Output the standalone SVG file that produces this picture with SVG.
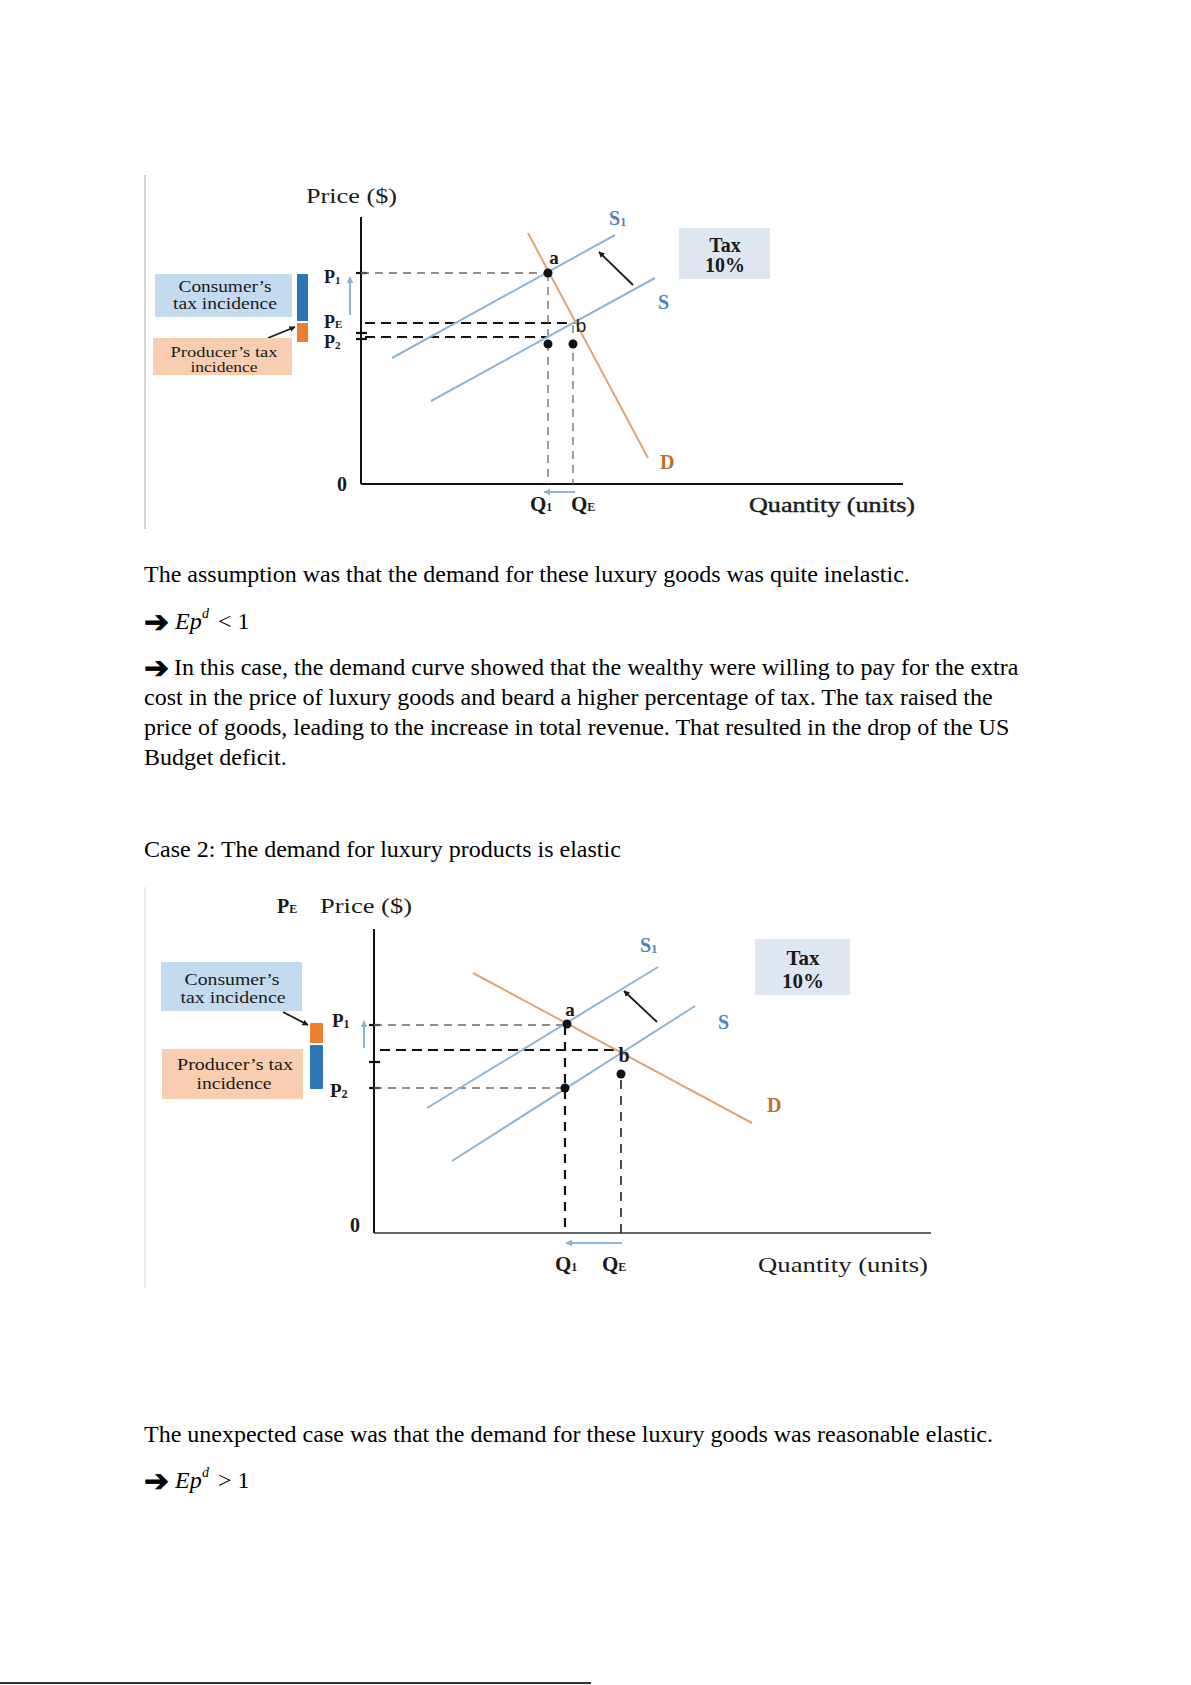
<svg xmlns="http://www.w3.org/2000/svg" width="1191" height="1685" viewBox="0 0 1191 1685">
<defs>
<style>
.body{font-family:"Liberation Serif","Times New Roman",serif;font-size:24px;fill:#000}
.sup-d{font-family:"Liberation Serif","Times New Roman",serif;font-size:14px;font-style:italic;fill:#000}
.arr{font-family:"DejaVu Sans",sans-serif;font-size:30px;fill:#000;stroke:#000;stroke-width:0.8}
.ax{stroke:#111;stroke-width:2;fill:none}
.tick{stroke:#111;stroke-width:2.2}
.dg{stroke:#6a6a6a;stroke-width:1.3;stroke-dasharray:8 6;fill:none}
.dk{stroke:#111;stroke-width:1.8;stroke-dasharray:10 6;fill:none}
.sup{stroke:#8fb5d3;stroke-width:2;fill:none}
.dem{stroke:#dea677;stroke-width:2;fill:none}
.lbl{font-family:"Liberation Serif","Times New Roman",serif;fill:#1a1a1a}
.b{font-weight:bold}
.sl{font-family:"Liberation Serif",serif;font-weight:bold;font-size:20px;fill:#4f81bd}
.dl{font-family:"Liberation Serif",serif;font-weight:bold;font-size:20px;fill:#c0702c}
.cons{fill:#c4daee}
.prod{fill:#f8cdb0}
.bbar{fill:#2e75b6}
.obar{fill:#ed7d31}
.taxbox{fill:#dde6f1}
.dot{fill:#111}
.blk{stroke:#1a1a1a;stroke-width:1.8;fill:none;marker-end:url(#hb)}
.blu{stroke:#8fb5d3;stroke-width:2;fill:none;marker-end:url(#hl)}
</style>
<marker id="hb" viewBox="0 0 10 10" refX="9" refY="5" markerWidth="6" markerHeight="6" orient="auto" markerUnits="userSpaceOnUse">
<path d="M0,0 L10,5 L0,10 z" fill="#1a1a1a"/>
</marker>
<marker id="hl" viewBox="0 0 10 10" refX="9" refY="5" markerWidth="7" markerHeight="7" orient="auto" markerUnits="userSpaceOnUse">
<path d="M0,0 L10,5 L0,10 z" fill="#8fb5d3"/>
</marker>
</defs>
<rect width="1191" height="1685" fill="#fff"/>

<!-- Chart 1 -->
<g id="chart1">
<line x1="145" y1="175" x2="145" y2="529" stroke="#c8c8c8" stroke-width="1.5"/>
<text class="lbl" x="306" y="203" font-size="22" textLength="91" lengthAdjust="spacingAndGlyphs">Price ($)</text>
<g id="c1-axes">
<line class="ax" x1="361" y1="217" x2="361" y2="484"/>
<line class="ax" x1="361" y1="484" x2="903" y2="484"/>
<line class="tick" x1="356" y1="273" x2="367" y2="273"/>
<line class="tick" x1="356" y1="333" x2="367" y2="333"/>
<line class="tick" x1="356" y1="339" x2="367" y2="339"/>
<text class="lbl b" x="342" y="491" font-size="20" text-anchor="middle">0</text>
<text class="lbl b" x="324" y="283" font-size="18">P<tspan font-size="11" dy="1">1</tspan></text>
<text class="lbl b" x="324" y="328" font-size="18">P<tspan font-size="11">E</tspan></text>
<text class="lbl b" x="324" y="348" font-size="18">P<tspan font-size="11" dy="1">2</tspan></text>
<text class="lbl b" x="530" y="511" font-size="21">Q<tspan font-size="12">1</tspan></text>
<text class="lbl b" x="571" y="511" font-size="21">Q<tspan font-size="12">E</tspan></text>
<text class="lbl" x="749" y="512" font-size="22" textLength="166" lengthAdjust="spacingAndGlyphs" stroke="#1a1a1a" stroke-width="0.4">Quantity (units)</text>
</g>
<g id="c1-guides">
<path class="dg" d="M361,273 H548"/>
<path class="dk" d="M365,323 H575"/>
<path class="dk" d="M365,337 H548"/>
<path class="dg" d="M548,273 V484"/>
<path class="dg" d="M573,325 V484"/>
</g>
<g id="c1-curves">
<line class="sup" x1="392" y1="358" x2="615" y2="235"/>
<line class="sup" x1="431" y1="401" x2="655" y2="278"/>
<line class="dem" x1="528" y1="233" x2="648" y2="458"/>
<text class="sl" x="609" y="225">S<tspan font-size="12" dy="1">1</tspan></text>
<text class="sl" x="658" y="309">S</text>
<text class="dl" x="660" y="469">D</text>
</g>
<g id="c1-points">
<circle class="dot" cx="548" cy="273" r="4.5"/>
<circle class="dot" cx="548" cy="344" r="4.5"/>
<circle class="dot" cx="573" cy="344" r="4.5"/>
<text class="lbl b" x="554" y="264" font-size="19" text-anchor="middle">a</text>
<text x="581" y="332" font-family="Liberation Sans,Arial,sans-serif" font-size="19" fill="#1a1a1a" text-anchor="middle">b</text>
</g>
<g id="c1-tax">
<rect class="taxbox" x="679" y="228" width="91" height="51"/>
<text class="lbl b" x="725" y="252" font-size="20" text-anchor="middle">Tax</text>
<text class="lbl b" x="725" y="272" font-size="20" text-anchor="middle">10%</text>
</g>
<g id="c1-arrows">
<line class="blk" x1="633" y1="285" x2="599" y2="252"/>
<line class="blu" x1="575" y1="492" x2="544" y2="492"/>
<line class="blu" x1="350" y1="315" x2="350" y2="277"/>
<line class="blk" x1="268" y1="338" x2="295" y2="327"/>
</g>
<g id="c1-consumer">
<rect class="cons" x="155" y="274" width="137" height="43"/>
<text class="lbl" x="225" y="292" font-size="16" text-anchor="middle" textLength="93" lengthAdjust="spacingAndGlyphs">Consumer’s</text>
<text class="lbl" x="225" y="309" font-size="16" text-anchor="middle" textLength="104" lengthAdjust="spacingAndGlyphs">tax incidence</text>
</g>
<g id="c1-producer">
<rect class="prod" x="153" y="338" width="139" height="37"/>
<text class="lbl" x="224" y="357" font-size="15" text-anchor="middle" textLength="107" lengthAdjust="spacingAndGlyphs">Producer’s tax</text>
<text class="lbl" x="224" y="372" font-size="15" text-anchor="middle" textLength="67" lengthAdjust="spacingAndGlyphs">incidence</text>
</g>
<g id="c1-bars">
<rect class="bbar" x="297" y="274" width="11" height="47"/>
<rect class="obar" x="297" y="323" width="11" height="19"/>
</g>
</g>

<!-- Text block 1 -->
<g id="text1">
<text class="body" x="144" y="582">The assumption was that the demand for these luxury goods was quite inelastic.</text>
<text class="arr" x="144" y="632">➔</text>
<text class="body" x="175" y="629" font-style="italic">Ep</text>
<text class="sup-d" x="202" y="618">d</text>
<text class="body" x="218" y="629">&lt; 1</text>
<text class="arr" x="144" y="678">➔</text>
<text class="body" x="174" y="675">In this case, the demand curve showed that the wealthy were willing to pay for the extra</text>
<text class="body" x="144" y="705">cost in the price of luxury goods and beard a higher percentage of tax. The tax raised the</text>
<text class="body" x="144" y="735">price of goods, leading to the increase in total revenue. That resulted in the drop of the US</text>
<text class="body" x="144" y="765">Budget deficit.</text>
<text class="body" x="144" y="857">Case 2: The demand for luxury products is elastic</text>
</g>

<!-- Chart 2 -->
<g id="chart2">
<line x1="145" y1="887" x2="145" y2="1288" stroke="#e4e4e4" stroke-width="1.5"/>
<text class="lbl b" x="277" y="913" font-size="20">P<tspan font-size="12">E</tspan></text>
<text class="lbl" x="320" y="913" font-size="22" textLength="92" lengthAdjust="spacingAndGlyphs">Price ($)</text>
<g id="c2-axes">
<line class="ax" x1="374" y1="929" x2="374" y2="1233"/>
<line x1="374" y1="1233" x2="931" y2="1233" stroke="#333" stroke-width="1.6"/>
<line class="tick" x1="369" y1="1025" x2="380" y2="1025"/>
<line class="tick" x1="369" y1="1062" x2="380" y2="1062"/>
<line class="tick" x1="369" y1="1088" x2="380" y2="1088"/>
<text class="lbl b" x="355" y="1232" font-size="20" text-anchor="middle">0</text>
<text class="lbl b" x="332" y="1027" font-size="19">P<tspan font-size="12" dy="1">1</tspan></text>
<text class="lbl b" x="330" y="1097" font-size="19">P<tspan font-size="12" dy="1">2</tspan></text>
<text class="lbl b" x="555" y="1271" font-size="21">Q<tspan font-size="12">1</tspan></text>
<text class="lbl b" x="602" y="1271" font-size="21">Q<tspan font-size="12">E</tspan></text>
<text class="lbl" x="758" y="1272" font-size="22" textLength="170" lengthAdjust="spacingAndGlyphs">Quantity (units)</text>
</g>
<g id="c2-guides">
<path class="dg" d="M374,1025 H567"/>
<path class="dk" d="M380,1050 H620"/>
<path class="dg" d="M374,1088 H565"/>
<path d="M565,1026 V1233" stroke="#111" stroke-width="2.2" stroke-dasharray="9 7" fill="none"/>
<path d="M621,1080 V1233" stroke="#333" stroke-width="1.8" stroke-dasharray="9 7" fill="none"/>
</g>
<g id="c2-curves">
<line class="sup" x1="427" y1="1108" x2="658" y2="967"/>
<line class="sup" x1="452" y1="1161" x2="695" y2="1006"/>
<line class="dem" x1="473" y1="973" x2="752" y2="1123"/>
<text class="sl" x="640" y="952">S<tspan font-size="12" dy="1">1</tspan></text>
<text class="sl" x="718" y="1029">S</text>
<text class="dl" x="767" y="1112">D</text>
</g>
<g id="c2-points">
<circle class="dot" cx="567" cy="1024" r="4.5"/>
<circle class="dot" cx="565" cy="1088" r="4.5"/>
<circle class="dot" cx="621" cy="1074" r="4.5"/>
<text class="lbl b" x="570" y="1016" font-size="19" text-anchor="middle">a</text>
<text class="lbl b" x="624" y="1062" font-size="20" text-anchor="middle">b</text>
</g>
<g id="c2-tax">
<rect class="taxbox" x="755" y="939" width="95" height="56"/>
<text class="lbl b" x="803" y="965" font-size="21" text-anchor="middle">Tax</text>
<text class="lbl b" x="803" y="988" font-size="21" text-anchor="middle">10%</text>
</g>
<g id="c2-arrows">
<line class="blk" x1="657" y1="1022" x2="624" y2="991"/>
<line class="blu" x1="622" y1="1243" x2="566" y2="1243"/>
<line class="blu" x1="364" y1="1048" x2="364" y2="1021"/>
<line class="blk" x1="283" y1="1012" x2="308" y2="1025"/>
</g>
<g id="c2-consumer">
<rect class="cons" x="161" y="962" width="141" height="49"/>
<text class="lbl" x="232" y="985" font-size="16" text-anchor="middle" textLength="95" lengthAdjust="spacingAndGlyphs">Consumer’s</text>
<text class="lbl" x="233" y="1003" font-size="16" text-anchor="middle" textLength="105" lengthAdjust="spacingAndGlyphs">tax incidence</text>
</g>
<g id="c2-producer">
<rect class="prod" x="162" y="1049" width="141" height="50"/>
<text class="lbl" x="235" y="1070" font-size="16" text-anchor="middle" textLength="116" lengthAdjust="spacingAndGlyphs">Producer’s tax</text>
<text class="lbl" x="234" y="1089" font-size="16" text-anchor="middle" textLength="75" lengthAdjust="spacingAndGlyphs">incidence</text>
</g>
<g id="c2-bars">
<rect class="obar" x="310" y="1023" width="13" height="20" rx="1"/>
<rect class="bbar" x="310" y="1045" width="13" height="44" rx="1"/>
</g>
</g>

<!-- Text block 2 -->
<g id="text2">
<text class="body" x="144" y="1442">The unexpected case was that the demand for these luxury goods was reasonable elastic.</text>
<text class="arr" x="144" y="1491">➔</text>
<text class="body" x="175" y="1488" font-style="italic">Ep</text>
<text class="sup-d" x="202" y="1477">d</text>
<text class="body" x="218" y="1488">&gt; 1</text>
</g>

<line x1="0" y1="1683" x2="591" y2="1683" stroke="#333" stroke-width="2"/>
</svg>
